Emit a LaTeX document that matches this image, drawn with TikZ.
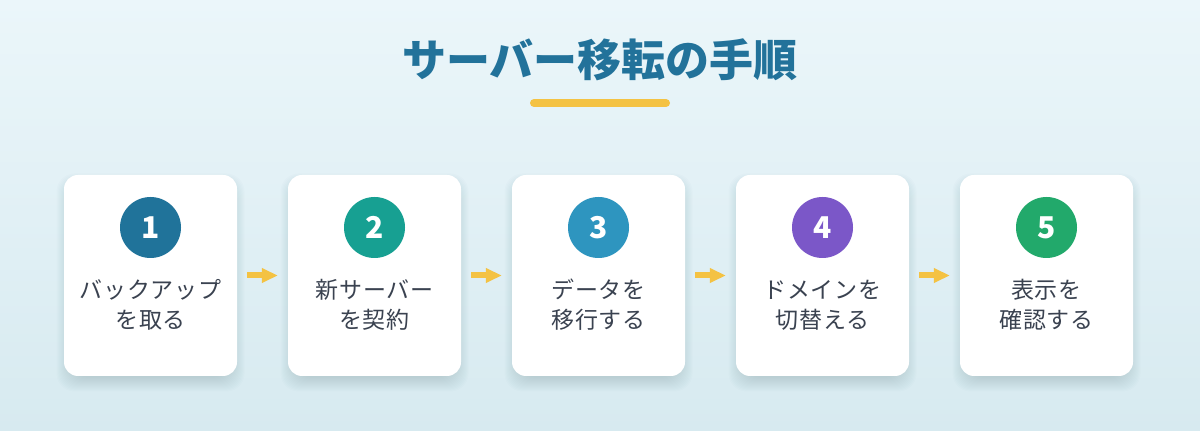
\documentclass[tikz,border=0pt]{standalone}
\usepackage{fontspec}
\setmainfont{Noto Sans CJK JP}
\usetikzlibrary{arrows.meta,positioning}
\definecolor{bgtop}{RGB}{235,246,250}
\definecolor{bgbot}{RGB}{215,234,240}
\definecolor{titleblue}{RGB}{34,114,154}
\definecolor{gold}{RGB}{244,194,67}
\definecolor{ink}{RGB}{58,66,80}
\definecolor{haze}{RGB}{40,70,90}
\definecolor{stepA}{RGB}{32,115,154}
\definecolor{stepB}{RGB}{23,160,146}
\definecolor{stepC}{RGB}{46,149,191}
\definecolor{stepD}{RGB}{123,87,200}
\definecolor{stepE}{RGB}{34,169,107}

\begin{document}
\begin{tikzpicture}[x=1pt,y=1pt,
    card/.style={fill=white,rounded corners=14pt,minimum width=173pt,minimum height=201pt,inner sep=0pt},
    haze/.style={fill=haze,opacity=0.012,rounded corners=18pt},
    badge/.style={circle,minimum size=61pt,inner sep=0pt,text=white,font=\bfseries\fontsize{30}{30}\selectfont},
    steptext/.style={text=ink,align=center,font=\fontsize{23}{30}\selectfont\addfontfeatures{LetterSpace=3}},
    flow/.style={gold,line width=6pt,-{Triangle[length=16pt,width=14pt]},shorten <=10pt,shorten >=10pt}]
  % backdrop
  \fill[top color=bgtop,bottom color=bgbot] (0,0) rectangle (1200,431);
  \useasboundingbox (0,0) rectangle (1200,431);

  \node[font=\bfseries\fontsize{44}{44}\selectfont,text=titleblue] (title) at (600,371) {サーバー移転の手順};
  \draw[gold,line width=8pt,line cap=round] (534,328) -- (666,328);

  % five steps
  \foreach \i/\col/\txt in {1/stepA/{バックアップ\\を取る},2/stepB/{新サーバー\\を契約},
      3/stepC/{データを\\移行する},4/stepD/{ドメインを\\切替える},5/stepE/{表示を\\確認する}}{
    \coordinate (c\i) at (150.5+224*\i-224,155.5);
    \foreach \k in {0,...,14}
      \fill[haze] ([shift={(-80-\k,-102-\k)}]c\i) rectangle ([shift={(80+\k,88+\k)}]c\i);
    \node[card] (card\i) at (c\i) {};
    \node[badge,fill=\col,below=22pt of card\i.north] (num\i) {\i};
    \node[steptext] (text\i) at ([yshift=-29.5pt]card\i.center) {\txt};
  }
  \foreach \i [evaluate=\i as \j using int(\i+1)] in {1,...,4}
    \draw[flow] (card\i.east) -- (card\j.west);
\end{tikzpicture}
\end{document}
